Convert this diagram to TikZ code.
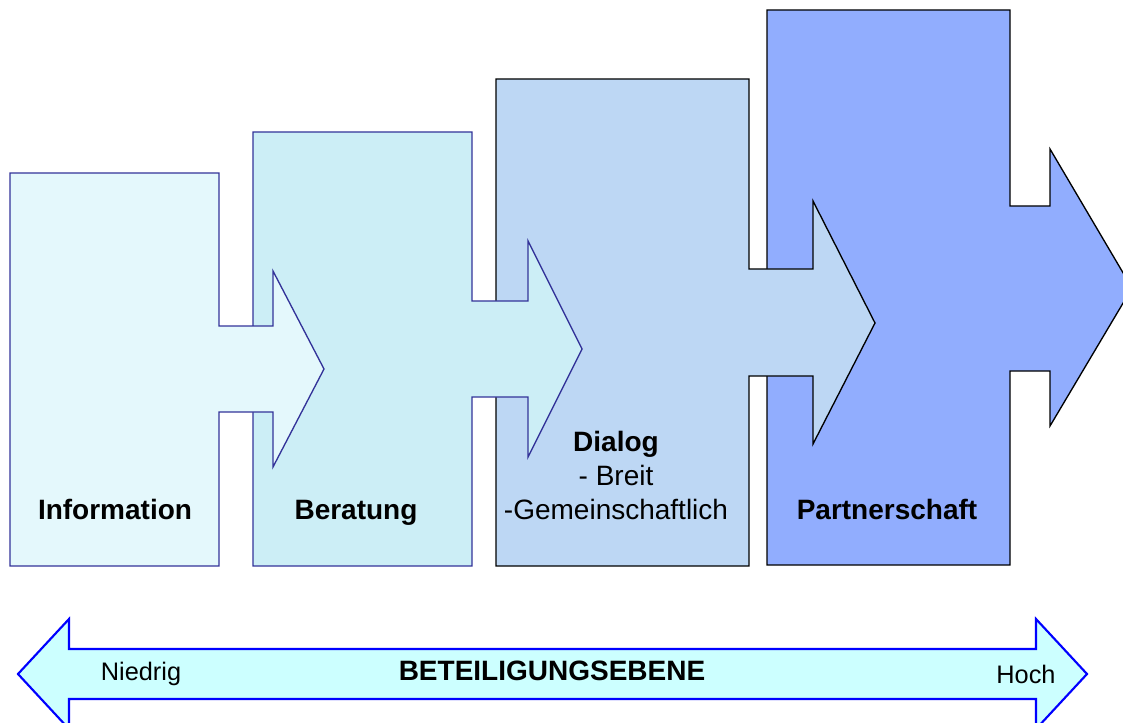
\documentclass[tikz,border=0pt]{standalone}
\usepackage{fontspec}
\setmainfont{Liberation Sans}
\definecolor{fillA}{HTML}{E4F8FC}
\definecolor{fillB}{HTML}{CCEEF6}
\definecolor{fillC}{HTML}{BDD7F4}
\definecolor{fillD}{HTML}{91ADFE}
\definecolor{edgeAB}{HTML}{333399}
\definecolor{scaleFill}{HTML}{CCFFFF}
\definecolor{scaleEdge}{HTML}{0000FF}
\tikzset{
  stage/.style={line width=1pt, line join=miter},
  lbl/.style={anchor=base, inner sep=0pt, font=\fontsize{21}{25}\selectfont\bfseries},
  lblreg/.style={anchor=base, inner sep=0pt, font=\fontsize{21}{25}\selectfont},
  scaletxt/.style={anchor=base, inner sep=0pt, font=\fontsize{19}{23}\selectfont},
}
\begin{document}
\begin{tikzpicture}[x=0.75pt,y=-0.75pt]
\path[use as bounding box] (0,0) rectangle (1123,723);
\clip (0,0) rectangle (1123,723);
% Stage 4: Partnerschaft
\draw[stage, fill=fillD, draw=black]
  (767,10) -- (1010,10) -- (1010,206) -- (1050,206) -- (1050,149) -- (1132,288)
  -- (1050,426) -- (1050,371) -- (1010,371) -- (1010,565) -- (767,565) -- cycle;
% Stage 3: Dialog
\draw[stage, fill=fillC, draw=black]
  (496,79) -- (749,79) -- (749,269) -- (813,269) -- (813,201) -- (875,323)
  -- (813,444) -- (813,376) -- (749,376) -- (749,566) -- (496,566) -- cycle;
% Stage 2: Beratung
\draw[stage, fill=fillB, draw=edgeAB]
  (253,132) -- (472,132) -- (472,301) -- (528,301) -- (528,241) -- (582,349)
  -- (528,457) -- (528,397) -- (472,397) -- (472,566) -- (253,566) -- cycle;
% Stage 1: Information
\draw[stage, fill=fillA, draw=edgeAB]
  (10,173) -- (219,173) -- (219,326) -- (273,326) -- (273,271) -- (324,369)
  -- (273,467) -- (273,412) -- (219,412) -- (219,566) -- (10,566) -- cycle;
% Labels
\node[lbl] (info) at (115,519) {Information};
\node[lbl] (berat) at (356,519) {Beratung};
\node[lbl] (dialog) at (616,451) {Dialog};
\node[lblreg] (breit) at (616,485) {- Breit};
\node[lblreg] (gemein) at (616,519) {-Gemeinschaftlich};
\node[lbl] (partner) at (887,519) {Partnerschaft};
% Scale arrow
\draw[line width=1.6pt, fill=scaleFill, draw=scaleEdge, line join=miter]
  (18,674) -- (69,619) -- (69,649) -- (1036,649) -- (1036,619) -- (1087,674)
  -- (1036,729) -- (1036,699) -- (69,699) -- (69,729) -- cycle;
\node[scaletxt] (niedrig) at (141,680) {Niedrig};
\node[lbl] (ebene) at (552,680) {BETEILIGUNGSEBENE};
\node[scaletxt] (hoch) at (1026,683) {Hoch};
\end{tikzpicture}
\end{document}
